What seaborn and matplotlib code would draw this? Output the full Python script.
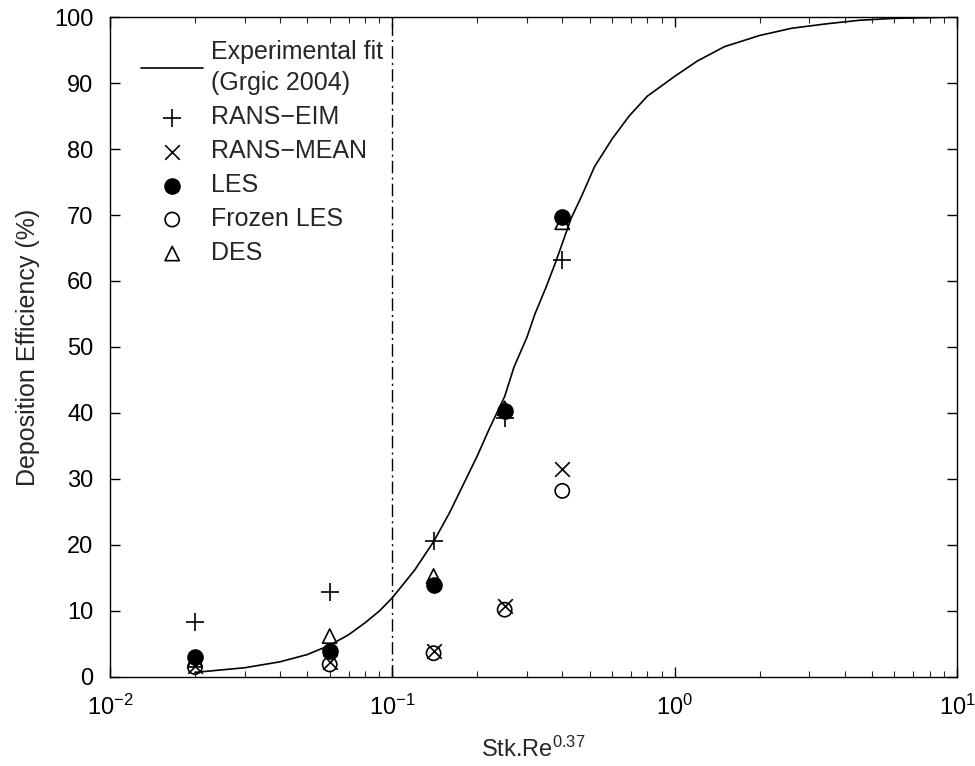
import matplotlib
matplotlib.use("Agg")
import matplotlib.pyplot as plt
import seaborn as sns
import numpy as np
import pandas as pd
from matplotlib.ticker import LogLocator, NullFormatter

# ---- data ----
stk_x = [0.02, 0.06, 0.14, 0.25, 0.40]
rans_eim = [8.3, 12.9, 20.6, 39.2, 63.2]
rans_mean = [1.6, 2.2, 4.0, 10.8, 31.5]
les = [3.0, 4.0, 13.9, 40.3, 69.7]
frozen_les = [1.5, 1.9, 3.6, 10.2, 28.2]
des = [2.6, 6.2, 15.3, 40.7, 68.9]

fit_x = [0.02, 0.03, 0.04, 0.05, 0.06, 0.07, 0.08, 0.09, 0.1, 0.12, 0.14, 0.16,
         0.18, 0.2, 0.22, 0.25, 0.27, 0.3, 0.32, 0.35, 0.38, 0.43, 0.47, 0.52,
         0.6, 0.69, 0.8, 1.0, 1.2, 1.5, 2.0, 2.6, 3.5, 4.5, 6.0, 8.0, 10.0]
fit_y = [0.7, 1.4, 2.3, 3.4, 4.8, 6.4, 8.2, 10.0, 12.0, 16.2, 20.5, 25.0,
         29.5, 33.5, 37.5, 42.5, 47.0, 51.5, 55.0, 59.0, 63.0, 69.5, 73.0, 77.3,
         81.5, 85.0, 88.0, 91.0, 93.3, 95.5, 97.2, 98.3, 99.0, 99.5, 99.8, 99.9, 100.0]

sns.set_theme(style="ticks")
plt.rcParams['font.family'] = ['Liberation Sans', 'DejaVu Sans']
plt.rcParams['mathtext.fontset'] = 'custom'
plt.rcParams['mathtext.rm'] = 'Liberation Sans'
plt.rcParams['mathtext.it'] = 'Liberation Sans:italic'
plt.rcParams['mathtext.bf'] = 'Liberation Sans:bold'
plt.rcParams['mathtext.default'] = 'regular'

fig = plt.figure(figsize=(9.75, 7.66), dpi=100)
ax = fig.add_axes([0.1128, 0.1162, 0.8687, 0.8616])

fit_df = pd.DataFrame({"x": fit_x, "y": fit_y})
sns.lineplot(data=fit_df, x="x", y="y", ax=ax, color="black", lw=1.2,
             label="Experimental fit\n(Grgic 2004)", sort=False)

ax.axvline(0.1, color="black", lw=1.0, ls=(0, (9, 3, 1.5, 3)))

sns.scatterplot(x=stk_x, y=rans_eim, ax=ax, marker="+", s=170, color="black",
                linewidth=1.2, label="RANS\u2212EIM", zorder=5)
sns.scatterplot(x=stk_x, y=rans_mean, ax=ax, marker="x", s=110, color="black",
                linewidth=1.2, label="RANS\u2212MEAN", zorder=5)
sns.scatterplot(x=stk_x, y=des, ax=ax, marker="^", s=105, facecolor="none",
                edgecolor="black", linewidth=1.2, label="DES_tmp", zorder=4)
sns.scatterplot(x=stk_x, y=les, ax=ax, marker="o", s=120, color="black",
                edgecolor="black", linewidth=1.0, label="LES", zorder=6)
sns.scatterplot(x=stk_x, y=frozen_les, ax=ax, marker="o", s=105, facecolor="none",
                edgecolor="black", linewidth=1.2, label="Frozen LES", zorder=5)

ax.set_xscale("log")
ax.set_xlim(0.01, 10)
ax.set_ylim(0, 100)
ax.set_yticks(np.arange(0, 101, 10))
ax.xaxis.set_major_locator(LogLocator(base=10, numticks=10))
ax.xaxis.set_minor_locator(LogLocator(base=10, subs=np.arange(2, 10), numticks=100))
ax.xaxis.set_minor_formatter(NullFormatter())

for s in ax.spines.values():
    s.set_visible(True)
    s.set_color("black")
    s.set_linewidth(1.0)

ax.tick_params(axis="both", which="major", direction="in", length=7, width=1,
               top=True, right=True, labelsize=17, colors="black")
ax.tick_params(axis="y", which="major", pad=12)
ax.tick_params(axis="x", which="major", pad=13)
ax.tick_params(axis="x", which="minor", direction="in", length=4, width=0.8,
               top=True, bottom=True)

ax.set_xlabel("Stk.Re$^{0.37}$", fontsize=17, labelpad=12)
ax.set_ylabel("Deposition Efficiency (%)", fontsize=18, labelpad=10)

# legend ordering
handles, labels = ax.get_legend_handles_labels()
order = ["Experimental fit\n(Grgic 2004)", "RANS\u2212EIM", "RANS\u2212MEAN", "LES",
         "Frozen LES", "DES_tmp"]
hmap = dict(zip(labels, handles))
hs = [hmap[k] for k in order]
ls = [k if k != "DES_tmp" else "DES" for k in order]
leg = ax.legend(hs, ls, loc="upper left", bbox_to_anchor=(0.01, 1.0),
                frameon=False, fontsize=18, handlelength=2.5, handletextpad=0.3,
                labelspacing=0.40)
for t in leg.get_texts():
    t.set_linespacing(1.4)

fig.savefig("out.png", dpi=100)
